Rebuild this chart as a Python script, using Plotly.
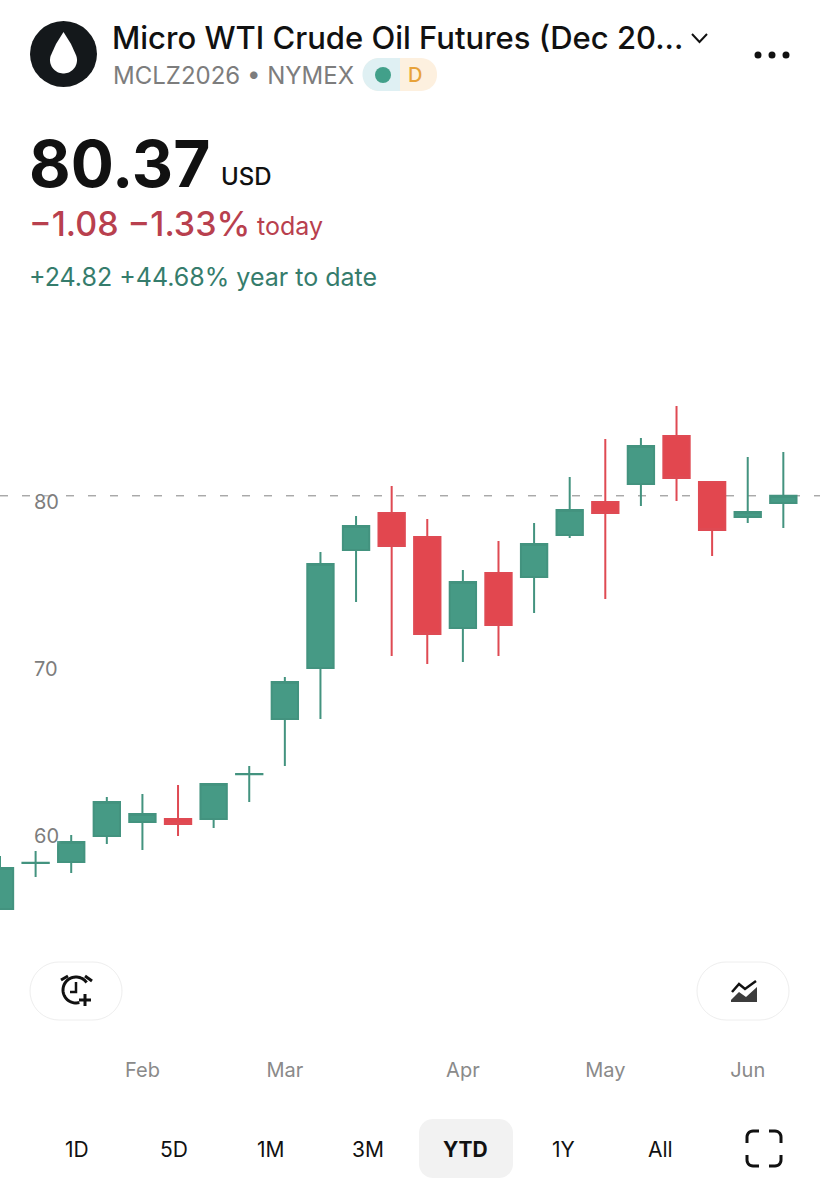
#import packages
import numpy as np
import plotly.graph_objects as go

# weekly candles
dates = ["2026-01-05", "2026-01-12", "2026-01-19", "2026-01-26", "2026-02-02", "2026-02-09",
         "2026-02-16", "2026-02-23", "2026-03-02", "2026-03-09", "2026-03-16", "2026-03-23",
         "2026-03-30", "2026-04-06", "2026-04-13", "2026-04-20", "2026-04-27", "2026-05-04",
         "2026-05-11", "2026-05-18", "2026-05-25", "2026-06-01", "2026-06-08"]
opens = [55.63, 58.38, 58.44, 60.00, 60.84, 61.02, 61.02, 63.70, 67.01, 70.06, 77.13, 79.34,
         77.90, 72.46, 75.75, 75.51, 78.02, 80.00, 81.08, 83.95, 81.20, 79.10, 79.94]
highs = [58.80, 59.10, 60.06, 62.34, 62.51, 63.05, 63.17, 64.19, 69.52, 77.01, 79.16, 80.96,
         78.98, 75.93, 77.66, 78.74, 81.50, 83.77, 83.83, 85.75, 81.20, 82.69, 82.99]
lows = [55.63, 57.54, 57.78, 59.52, 59.16, 60.00, 60.48, 62.04, 64.19, 67.01, 74.01, 70.78,
        70.30, 70.42, 70.78, 73.35, 77.84, 74.19, 79.76, 80.06, 76.77, 78.74, 78.44]
closes = [58.08, 58.40, 59.64, 62.04, 61.32, 60.72, 63.11, 63.72, 69.22, 76.29, 78.56, 77.37,
          72.10, 75.21, 72.63, 77.48, 79.52, 79.34, 83.35, 81.44, 78.32, 79.40, 80.37]
last_price = 80.37

month_ticks = ["2026-02-02", "2026-03-02", "2026-04-06", "2026-05-04", "2026-06-01"]
month_labels = ["Feb", "Mar", "Apr", "May", "Jun"]
price_ticks = [60, 70, 80]
range_labels = ["1D", "5D", "1M", "3M", "YTD", "1Y", "All"]
range_x = [77, 174, 271, 368, 466, 563, 660]

FONT = "Inter"
W, H = 820, 1200


# page pixels to paper coordinates
def px(x):
    return x / W


def py(y):
    return 1 - y / H


def poly(points, close=False):
    s = "M " + " L ".join(f"{px(x):.5f} {py(y):.5f}" for x, y in points)
    return s + (" Z" if close else "")


def arc(cx, cy, r, a0, a1, n=40):
    t = np.radians(np.linspace(a0, a1, n))
    return list(zip(cx + r * np.cos(t), cy + r * np.sin(t)))


def pill(x0, y0, x1, y1, r):
    pts = (arc(x0 + r, y0 + r, r, 180, 270, 12) + arc(x1 - r, y0 + r, r, 270, 360, 12)
           + arc(x1 - r, y1 - r, r, 0, 90, 12) + arc(x0 + r, y1 - r, r, 90, 180, 12))
    return poly(pts, True)


def shape_path(path, fill=None, line=None, width=0):
    return dict(type="path", xref="paper", yref="paper", path=path, fillcolor=fill or "rgba(0,0,0,0)",
                line=dict(color=line or "rgba(0,0,0,0)", width=width))


def note(x, y, text, size, color, weight=400, anchor="left"):
    return dict(x=px(x), y=py(y), xref="paper", yref="paper", text=text, showarrow=False, xanchor=anchor,
                yanchor="middle", borderpad=0, font=dict(family=FONT, size=size, color=color, weight=weight))


fig = go.Figure(go.Candlestick(
    x=dates, open=opens, high=highs, low=lows, close=closes,
    increasing=dict(fillcolor="#469a85", line=dict(color="#43937f", width=2)),
    decreasing=dict(fillcolor="#e2474f", line=dict(color="#df4a53", width=2)),
    whiskerwidth=0, hoverinfo="skip"))

shapes = [
    # last price line
    dict(type="line", xref="paper", yref="y", x0=0, x1=1, y0=last_price, y1=last_price, layer="below",
         line=dict(color="#828282", width=1, dash="8px,14px")),
    # logo
    dict(type="circle", xref="paper", yref="paper", x0=px(30), x1=px(97), y0=py(87), y1=py(21),
         fillcolor="#14181b", line=dict(width=0)),
    shape_path(poly(arc(63.5, 60, 13.5, -20, 200) + [(56, 44), (63.5, 32), (71, 44)], True), fill="#ffffff"),
    # status badge
    shape_path(pill(363, 58, 437, 91, 16), fill="#fdf0df"),
    shape_path(poly(arc(379, 74.5, 16.5, 90, 270) + [(400, 58), (400, 91)], True), fill="#dff0f3"),
    dict(type="circle", xref="paper", yref="paper", x0=px(375), x1=px(391), y0=py(83), y1=py(67),
         fillcolor="#42a08a", line=dict(width=0)),
    # chevron
    shape_path(poly([(692, 34), (699.5, 42), (707, 34)]), line="#111111", width=2),
    # buttons
    shape_path(pill(30, 962, 122, 1020, 29), fill="#ffffff", line="#eeeeee", width=1),
    shape_path(pill(697, 962, 789, 1020, 29), fill="#ffffff", line="#eeeeee", width=1),
    shape_path(pill(419, 1119, 513, 1178, 14), fill="#f2f2f2"),
    # alarm icon
    shape_path(poly(arc(76, 990, 13, 75, 325)), line="#111111", width=3),
    shape_path(poly([(76, 982), (76, 992), (70, 992)]), line="#111111", width=2.5),
    shape_path(poly([(61, 980), (68, 976)]), line="#111111", width=3),
    shape_path(poly([(85, 976), (92, 981)]), line="#111111", width=3),
    shape_path(poly([(85, 994), (85, 1006)]), line="#111111", width=3),
    shape_path(poly([(79, 1000), (91, 1000)]), line="#111111", width=3),
    # area chart icon
    shape_path(poly([(732, 992), (739, 984), (745, 989), (756, 981)]), line="#111111", width=2.5),
    shape_path(poly([(731, 1002), (731, 1000), (739, 992), (746, 997), (757, 987), (757, 1002)], True), fill="#3c3c3c"),
    # fullscreen icon
    shape_path(poly([(747, 1143)] + arc(753, 1137, 6, 180, 270, 8) + [(759, 1131)]), line="#111111", width=3),
    shape_path(poly([(769, 1131)] + arc(775, 1137, 6, 270, 360, 8) + [(781, 1143)]), line="#111111", width=3),
    shape_path(poly([(781, 1155)] + arc(775, 1160, 6, 0, 90, 8) + [(769, 1166)]), line="#111111", width=3),
    shape_path(poly([(759, 1166)] + arc(753, 1160, 6, 90, 180, 8) + [(747, 1155)]), line="#111111", width=3),
]
# the three dots
for dot_x in [758, 772, 786]:
    shapes.append(dict(type="circle", xref="paper", yref="paper", x0=px(dot_x - 3.5), x1=px(dot_x + 3.5),
                       y0=py(58.5), y1=py(51.5), fillcolor="#111111", line=dict(width=0)))

annotations = [
    note(111, 38, "Micro WTI Crude Oil Futures (Dec 20...", 31, "#111111", 500),
    note(112, 75, "MCLZ2026 • NYMEX", 24, "#7d7d7d"),
    note(415, 75, "D", 20, "#e8a23a", 500, "center"),
    note(27.5, 163, "80.37", 64, "#111111", 700),
    note(220, 177, "USD", 24, "#111111", 500),
    note(28, 224, "−1.08 −1.33%", 34, "#b8404e", 500),
    note(256, 226, "today", 25, "#b8404e"),
    note(28, 277, "+24.82 +44.68% year to date", 25, "#357c6c"),
]
for label, x in zip(range_labels, range_x):
    bold = label == "YTD"
    annotations.append(note(x, 1149, label, 21, "#111111", 700 if bold else 400, "center"))

fig.update_layout(
    width=W, height=H, margin=dict(l=0, r=0, t=0, b=0),
    paper_bgcolor="#ffffff", plot_bgcolor="rgba(0,0,0,0)",
    showlegend=False, boxgap=0.26, boxgroupgap=0,
    shapes=shapes, annotations=annotations,
    xaxis=dict(type="date", domain=[0, 1], range=["2026-01-05", "2026-06-15 05:00"],
               rangeslider=dict(visible=False), showgrid=False, zeroline=False, showline=False,
               tickmode="array", tickvals=month_ticks, ticktext=month_labels, ticks="",
               ticklabelstandoff=6, tickfont=dict(family=FONT, size=20, color="#8a8a8a")),
    yaxis=dict(domain=[150 / H, 900 / H], range=[47.186, 92.096], showgrid=False, zeroline=False, showline=False,
               tickmode="array", tickvals=price_ticks, ticktext=[str(v) for v in price_ticks], ticks="",
               ticklabelposition="inside", ticklabelstandoff=31,
               tickfont=dict(family=FONT, size=20, color="#7d7d7d", shadow="0 0 4px #ffffff")),
)

# browser body margin would shift the 820x1200 figure
fig.write_html("out.html", config=dict(displayModeBar=False), post_script="document.body.style.margin = '0';")
